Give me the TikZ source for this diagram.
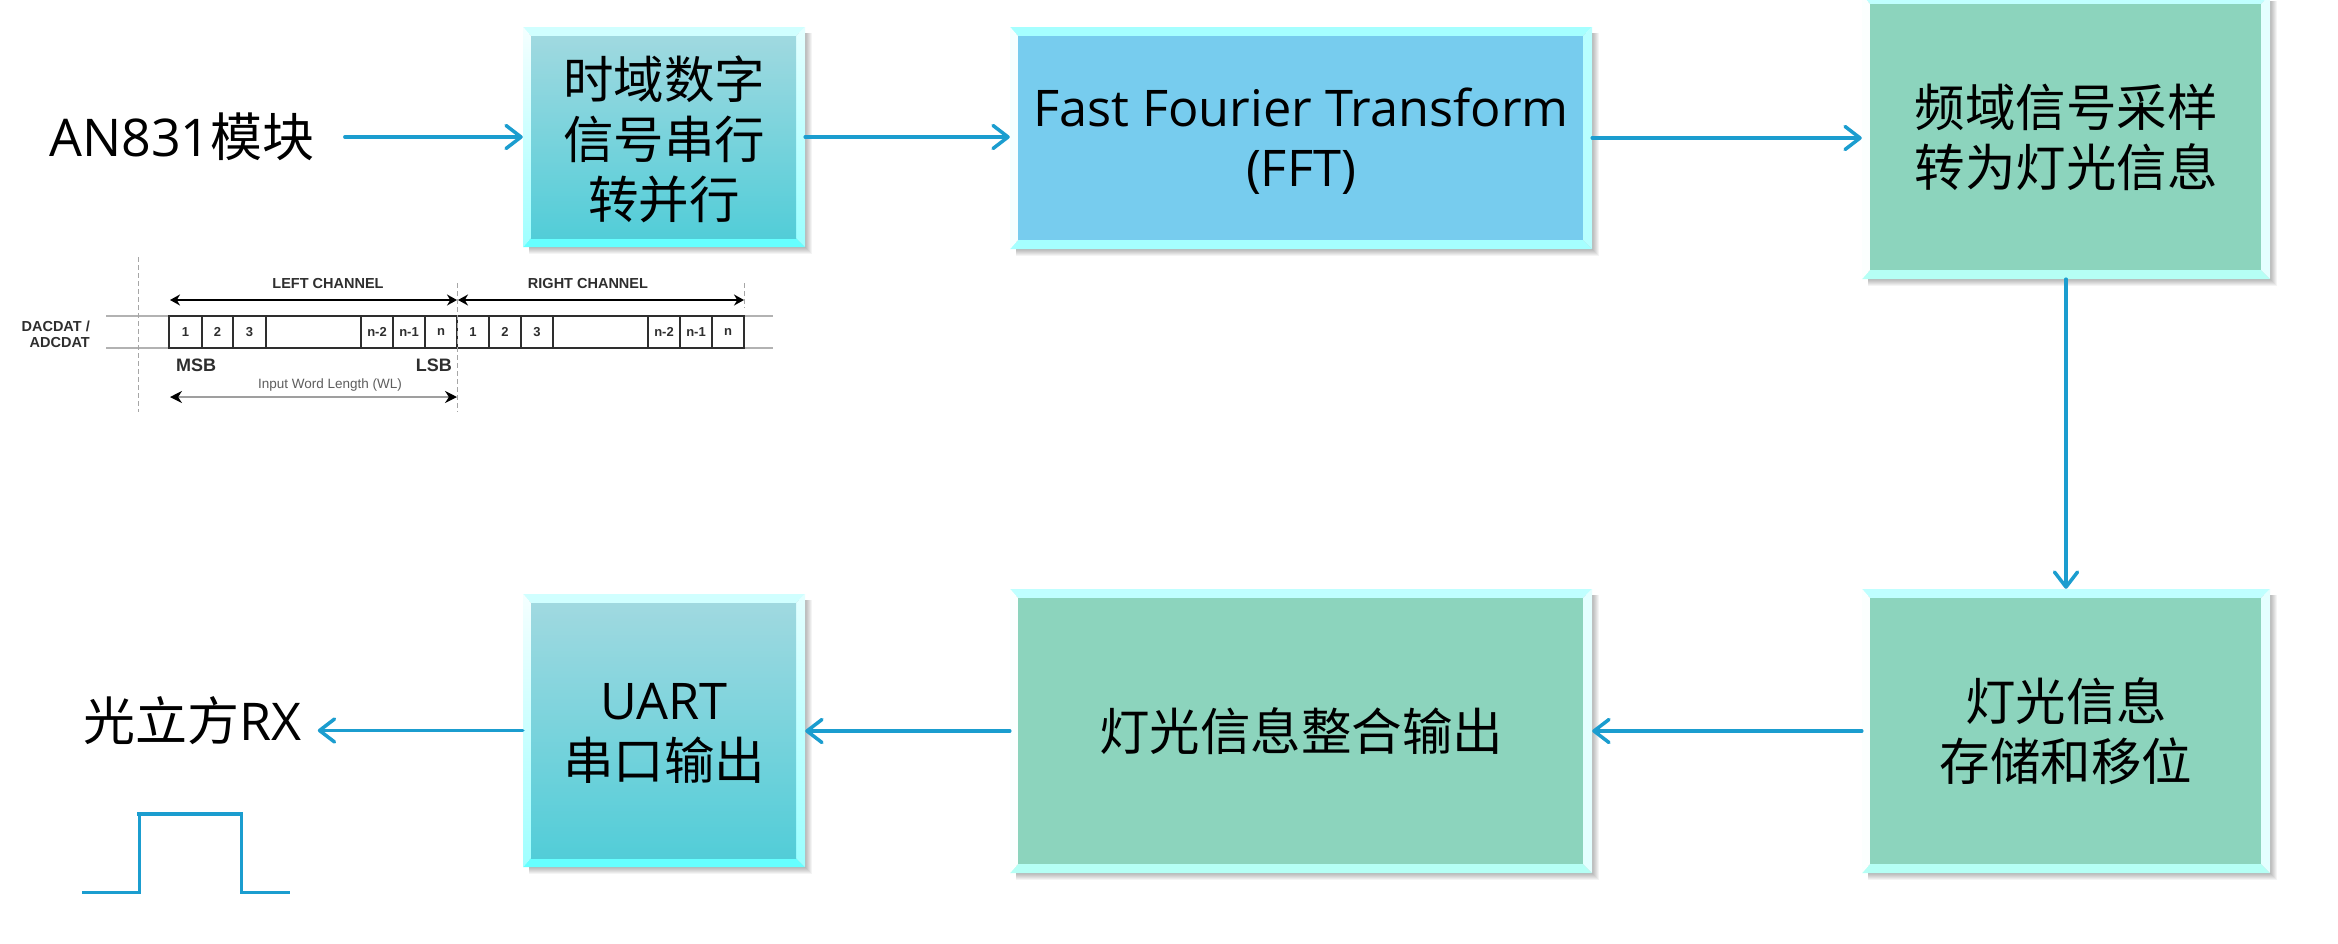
\documentclass[tikz,border=0pt]{standalone}
\usepackage{fontspec}
\setmainfont{Open Sans}
\newfontfamily\cjk{Noto Sans CJK SC}
\newfontfamily\arial{Liberation Sans}
\usetikzlibrary{arrows.meta,calc}
\definecolor{flow}{HTML}{1B9DCF}
\definecolor{inkdark}{HTML}{2E2E2E}
\definecolor{tA}{HTML}{A0D9E0}\definecolor{tB}{HTML}{52CDD8}
\definecolor{tC}{HTML}{D0FFFF}\definecolor{tD}{HTML}{66FFFF}
\definecolor{tE}{HTML}{F5FFFF}\definecolor{tF}{HTML}{9FFFFF}
\definecolor{tG}{HTML}{E4FFFF}\definecolor{tH}{HTML}{9AFFFF}
\definecolor{bA}{HTML}{77CCEE}\definecolor{bB}{HTML}{A5FFFF}
\definecolor{bC}{HTML}{F5FFFF}\definecolor{bD}{HTML}{B8FFFF}
\definecolor{gA}{HTML}{8CD4BD}\definecolor{gB}{HTML}{BFFFFF}
\definecolor{gC}{HTML}{B5FFF5}\definecolor{gD}{HTML}{FBFFFE}
\definecolor{gE}{HTML}{E4FFFF}
\definecolor{notegray}{HTML}{5E5E5E}
\tikzset{
  tealface/.style={top color=tA,bottom color=tB},
  tealtop/.style={fill=tC},tealbot/.style={fill=tD},
  tealleft/.style={top color=tE,bottom color=tF},
  tealright/.style={top color=tG,bottom color=tH},
  blueface/.style={fill=bA},
  bluetop/.style={fill=bB},bluebot/.style={fill=bB},
  blueleft/.style={fill=bC},blueright/.style={fill=bD},
  greenface/.style={fill=gA},
  greentop/.style={fill=gB},greenbot/.style={fill=gC},
  greenleft/.style={fill=gD},greenright/.style={fill=gE},
  flowtext/.style={font=\fontsize{50.5}{60}\selectfont,align=center,text=black,inner sep=0pt},
  endtext/.style={font=\fontsize{52}{60}\selectfont,align=center,text=black,inner sep=0pt},
  flowline/.style={draw=flow,line width=3.5pt,line cap=round,
    -{Straight Barb[length=15pt,width=23pt,line width=3.5pt,round]}},
  pulse/.style={draw=flow,line width=3pt},
  pulsetop/.style={draw=flow,line width=4.2pt,line cap=rect},
  cell/.style={draw=inkdark,line width=2pt,inner sep=0pt,font=\arial\bfseries\fontsize{13}{15}\selectfont,text=inkdark},
  dim/.style={line width=1.6pt,{Stealth[length=10pt,width=11pt]}-{Stealth[length=10pt,width=11pt]}},
  dimgray/.style={draw=gray!75,line width=1.5pt},
  guide/.style={draw=gray!70,line width=1pt,dash pattern=on 5pt off 3pt},
  rail/.style={draw=gray!60,line width=1.5pt},
  small/.style={font=\arial\bfseries\fontsize{14.5}{17}\selectfont,text=inkdark,inner sep=0pt},
  sig/.style={font=\arial\bfseries\fontsize{18}{20}\selectfont,text=inkdark,inner sep=0pt},
  note/.style={font=\arial\fontsize{13.5}{15}\selectfont,text=notegray,inner sep=0pt},
}
% name, x0,y0,x1,y1 (outer), kind, text, text offset
\newcommand{\bevelbox}[8]{%
  \foreach \s in {1,...,7}{
    \fill[black,opacity=0.045] ({#2+6},{#3+6}) rectangle ({#4+\s},{#5+\s});
  }
  \fill[#6top] (#2,#3) -- (#4,#3) -- ({#4-9},{#3+9}) -- ({#2+8},{#3+9}) -- cycle;
  \fill[#6bot] (#2,#5) -- (#4,#5) -- ({#4-9},{#5-9}) -- ({#2+8},{#5-9}) -- cycle;
  \path[#6left] (#2,#3) -- ({#2+8},{#3+9}) -- ({#2+8},{#5-9}) -- (#2,#5) -- cycle;
  \path[#6right] (#4,#3) -- ({#4-9},{#3+9}) -- ({#4-9},{#5-9}) -- (#4,#5) -- cycle;
  \path[#6face] ({#2+8},{#3+9}) rectangle ({#4-9},{#5-9});
  \node[inner sep=0pt,minimum width={(#4-#2)*1pt},minimum height={(#5-#3)*1pt}] (#1)
    at ({(#2+#4)/2},{(#3+#5)/2}) {};
  \node[flowtext] (#1t) at ($(#1.center)+(0,#8)$) {#7};
}
\begin{document}
\begin{tikzpicture}[x=1pt,y=-1pt]
\useasboundingbox (0,0) rectangle (2338,943);
\fill[white] (0,0) rectangle (2338,943);

\bevelbox{serial}{523}{27}{805}{247}{teal}{\cjk 时域数字\\\cjk 信号串行\\\cjk 转并行}{2}
\bevelbox{fft}{1010}{27}{1592}{249}{blue}{Fast Fourier Transform\\(FFT)}{3}
\bevelbox{sample}{1862}{-5}{2270}{279}{green}{\cjk 频域信号采样\\\cjk 转为灯光信息}{0}
\bevelbox{store}{1862}{589}{2270}{873}{green}{\cjk 灯光信息\\\cjk 存储和移位}{0}
\bevelbox{merge}{1010}{589}{1592}{873}{green}{\cjk 灯光信息整合输出}{0}
\bevelbox{uart}{523}{594}{805}{867}{teal}{UART\\\cjk 串口输出}{3}

\node[endtext,inner xsep=30pt] (src) at (182,137) {AN831{\cjk 模块}};
\node[endtext,inner xsep=16pt] (rx) at (192.5,721) {{\cjk 光立方}RX};

\draw[flowline] (src.east) -- (src.east -| serial.west);
\draw[flowline] (serial.east) -- (serial.east -| fft.west);
\draw[flowline] (fft.east) -- (fft.east -| sample.west);
\draw[flowline] (sample.south -| store.north) -- (store.north);
\draw[flowline] (store.west) -- (store.west -| merge.east);
\draw[flowline] (merge.west) -- (merge.west -| uart.east);
\draw[flowline] (uart.west) -- (uart.west -| rx.east |- uart.west);

% output pulse
\coordinate (p0) at (82,892);
\coordinate (p1) at (139,892);
\coordinate (p2) at (139,814);
\coordinate (p3) at (241,814);
\coordinate (p4) at (241,892);
\coordinate (p5) at (290,892);
\draw[pulse] (p0) -- (p1) -- (p2) -- (p3) -- (p4) -- (p5);
\draw[pulsetop] (p2) -- (p3);

% timing inset
\coordinate (railLa) at (106,316);
\coordinate (railRa) at (773,316);
\coordinate (railLb) at (106,348);
\coordinate (railRb) at (773,348);
\draw[rail] (railLa) -- (railRa);
\draw[rail] (railLb) -- (railRb);
\foreach \nm/\a/\b/\t in {a/169/202/1,b/202/233/2,c/233/266/3,d/266/361/{},e/361/393/n-2,f/393/425/n-1,g/425/457/n,
  h/457/489/1,i/489/521/2,j/521/553/3,k/553/648/{},l/648/680/n-2,m/680/712/n-1,o/712/744/n}{
  \node[cell,minimum width={(\b-\a)*1pt},minimum height=32pt] (\nm) at ({(\a+\b)/2},332) {\t};
}
\coordinate (gA0) at (138,257);
\coordinate (gA1) at (138,412);
\coordinate (gB0) at (457,283);
\coordinate (gB1) at (457,412);
\coordinate (gC0) at (744,283);
\coordinate (gC1) at (744,308);
\draw[guide] (gA0) -- (gA1);
\draw[guide] (gB0) -- (gB1);
\draw[guide] (gC0) -- (gC1);
\node[small] (leftch) at (328,284) {LEFT CHANNEL};
\node[small] (rightch) at (588,284) {RIGHT CHANNEL};
\coordinate (dl0) at (170,300);
\coordinate (dl1) at (457,300);
\coordinate (dr0) at (458,300);
\coordinate (dr1) at (744,300);
\draw[dim] (dl0) -- (dl1);
\draw[dim] (dr0) -- (dr1);
\node[small,anchor=east] (dac1) at (90,326) {DACDAT /};
\node[small,anchor=east] (dac2) at (90,343) {ADCDAT};
\node[sig,anchor=west] (msb) at (176,365) {MSB};
\node[sig,anchor=east] (lsb) at (452,365) {LSB};
\node[note] (wl) at (330,385) {Input Word Length (WL)};
\coordinate (w0) at (170,397);
\coordinate (w1) at (457,397);
\draw[dimgray,{Stealth[length=12pt,width=12pt,black]}-{Stealth[length=12pt,width=12pt,black]}] (w0) -- (w1);
\end{tikzpicture}
\end{document}
